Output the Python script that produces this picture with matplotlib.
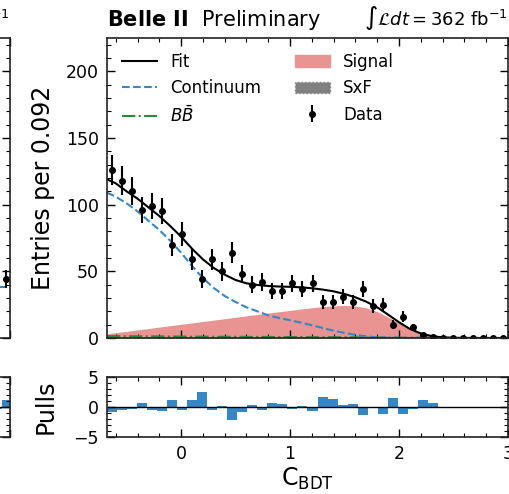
import numpy as np
import matplotlib.pyplot as plt
from matplotlib.ticker import MultipleLocator
from matplotlib.patches import Patch

plt.rcParams['font.family'] = 'DejaVu Sans'
plt.rcParams['mathtext.fontset'] = 'dejavusans'

# binning: 40 bins of 0.092 in C_BDT
bin_lo, bin_hi, n_bins = -0.68, 3.0, 40
edges = np.linspace(bin_lo, bin_hi, n_bins + 1)
centers = 0.5 * (edges[:-1] + edges[1:])

data_counts = [126, 118, 110, 96, 99, 95, 70, 78, 59, 44,
               59, 50, 64, 48, 40, 42, 35, 35, 41, 37,
               41, 27, 27, 31, 27, 37, 24, 25, 10, 16,
               8, 2, 1, 0, 0, 0, 0, 0, 0, 0]

pulls = [-0.83, -0.5, -0.3, 0.6, -0.5, -0.7, 1.25, -0.5, 1.25, 2.45,
         -0.5, 0.1, -2.2, -0.85, 0.3, -0.5, 0.6, 0.45, -0.4, 0.1,
         -0.65, 1.6, 1.4, 0.3, 0.5, -1.4, -0.1, -1.1, 1.45, -1.1,
         -0.4, 1.1, 0.6]

# fit components
curve_x = [-0.68, -0.6, -0.5, -0.4, -0.3, -0.2, -0.1, 0.0, 0.1, 0.2,
           0.3, 0.4, 0.5, 0.6, 0.7, 0.8, 0.9, 1.0, 1.1, 1.2,
           1.3, 1.4, 1.5, 1.6, 1.7, 1.8, 1.9, 2.0, 2.1, 2.2,
           2.3, 2.4, 2.5, 2.6, 2.7, 2.8, 2.9, 3.0]
fit_total = [119, 116, 110, 104.5, 98, 91.5, 84, 76, 67, 59,
             52.5, 47.5, 43.5, 41, 39.8, 39, 38.6, 38.4, 38, 37.3,
             36.3, 35, 33, 30.5, 27.2, 23, 17.5, 11.8, 6.8, 3.4,
             1.4, 0.5, 0.15, 0.05, 0, 0, 0, 0]
continuum = [109, 106, 101, 95, 88, 81, 73, 64, 54, 45,
             37.5, 31.5, 27, 23, 20, 17, 15, 13.3, 11.5, 9.6,
             7.5, 5.5, 3.8, 2.4, 1.2, 0.5, 0.2, 0.05, 0, 0,
             0, 0, 0, 0, 0, 0, 0, 0]
signal = [2.8, 3.6, 4.6, 5.7, 6.7, 7.8, 8.8, 9.9, 10.9, 12.0,
          13.0, 14.1, 15.1, 16.2, 17.2, 18.3, 19.3, 20.3, 21.3, 22.3,
          23.1, 23.7, 24.0, 23.7, 22.3, 19.5, 15.5, 11.0, 6.5, 3.0,
          1.0, 0.3, 0.05, 0, 0, 0, 0, 0]
bbbar = [1.4, 1.4, 1.3, 1.3, 1.2, 1.2, 1.1, 1.1, 1.0, 1.0,
         0.9, 0.9, 0.9, 0.8, 0.8, 0.8, 0.7, 0.7, 0.7, 0.6,
         0.6, 0.6, 0.5, 0.5, 0.4, 0.4, 0.3, 0.3, 0.2, 0.2,
         0.1, 0.1, 0.05, 0, 0, 0, 0, 0]
sxf = [0.4, 0.4, 0.4, 0.4, 0.4, 0.4, 0.4, 0.4, 0.4, 0.4,
       0.4, 0.4, 0.4, 0.4, 0.4, 0.4, 0.4, 0.4, 0.4, 0.4,
       0.4, 0.4, 0.4, 0.3, 0.3, 0.3, 0.2, 0.2, 0.1, 0.1,
       0.05, 0, 0, 0, 0, 0, 0, 0]

# right end of the neighbouring panel (only a sliver is visible)
nb_x = [2.7, 2.8, 2.9, 3.0]
nb_cont = [38, 38, 38, 38]
nb_data_x = [2.954]
nb_data = [44]
nb_pulls = [-0.4, -0.4, 1.2]

blue = '#3587c5'
red_fill = '#e99393'

W, H = 510, 494
fig = plt.figure(figsize=(W / 100, H / 100), dpi=100)
ax = fig.add_axes([107 / W, 1 - 338 / H, 401 / W, 300 / H])
axp = fig.add_axes([107 / W, 1 - 437 / H, 401 / W, 60 / H])
axl = fig.add_axes([-0.6, 1 - 338 / H, 0.62, 300 / H])
axlp = fig.add_axes([-0.6, 1 - 437 / H, 0.62, 60 / H])

# main panel
ax.fill_between(curve_x, 0, sxf, color='gray', lw=0)
ax.fill_between(curve_x, sxf, np.add(sxf, signal), color=red_fill, lw=0)
ax.plot(curve_x, bbbar, color='#2a8a3a', ls='-.', lw=1.5)
ax.plot(curve_x, continuum, color=blue, ls='--', lw=1.5)
ax.plot(curve_x, fit_total, color='black', lw=1.5)
ax.errorbar(centers, data_counts, yerr=np.sqrt(data_counts), fmt='o',
            color='black', ms=4, elinewidth=1.5, capsize=0)

h_fit = plt.Line2D([], [], color='black', lw=1.5)
h_cont = plt.Line2D([], [], color=blue, ls='--', lw=1.5)
h_bb = plt.Line2D([], [], color='#2a8a3a', ls='-.', lw=1.5)
h_sig = Patch(facecolor=red_fill, edgecolor=red_fill)
h_sxf = Patch(facecolor='gray', edgecolor='gray', ls=':')
h_data = ax.errorbar([], [], yerr=[], fmt='o', color='black', ms=4,
                     elinewidth=1.5, capsize=0)
ax.legend([h_fit, h_cont, h_bb, h_sig, h_sxf, h_data],
          ['Fit', 'Continuum', r'$B\bar{B}$', 'Signal', 'SxF', 'Data'],
          ncol=2, frameon=False, loc='upper left', fontsize=12,
          columnspacing=2.0, handlelength=2.1)

ax.set_xlim(bin_lo, bin_hi)
ax.set_ylim(0, 225)
ax.set_ylabel('Entries per 0.092', fontsize=17, labelpad=8)
ax.xaxis.set_major_locator(MultipleLocator(1))
ax.xaxis.set_minor_locator(MultipleLocator(0.2))
ax.yaxis.set_major_locator(MultipleLocator(50))
ax.yaxis.set_minor_locator(MultipleLocator(10))
ax.tick_params(labelbottom=False)

ax.text(0, 1.02, r'$\mathbf{Belle\ II}$  Preliminary', transform=ax.transAxes,
        fontsize=15, ha='left', va='bottom')
ax.text(1, 1.02, r'$\int\mathcal{L}dt = 362$ fb$^{-1}$', transform=ax.transAxes,
        fontsize=13, ha='right', va='bottom')

# pulls panel
axp.bar(centers[:len(pulls)], pulls, width=edges[1] - edges[0], color=blue, lw=0)
axp.axhline(0, color='black', lw=1)
axp.set_xlim(bin_lo, bin_hi)
axp.set_ylim(-5, 5)
axp.set_ylabel('Pulls', fontsize=17, labelpad=11)
axp.set_xlabel(r'C$_{\mathrm{BDT}}$', fontsize=17, labelpad=2)
axp.xaxis.set_major_locator(MultipleLocator(1))
axp.xaxis.set_minor_locator(MultipleLocator(0.2))
axp.yaxis.set_major_locator(MultipleLocator(5))
axp.yaxis.set_minor_locator(MultipleLocator(1))

# neighbouring panel sliver
axl.plot(nb_x, nb_cont, color=blue, ls='--', lw=1.5)
axl.errorbar(nb_data_x, nb_data, yerr=np.sqrt(nb_data), fmt='o', color='black',
             ms=4, elinewidth=1.5, capsize=0)
axl.set_xlim(bin_lo, bin_hi)
axl.set_ylim(0, 225)
axl.yaxis.set_minor_locator(MultipleLocator(10))
axl.text(1, 1.02, r'$\int\mathcal{L}dt = 362$ fb$^{-1}$', transform=axl.transAxes,
         fontsize=13, ha='right', va='bottom')
axlp.bar(centers[-len(nb_pulls):], nb_pulls, width=edges[1] - edges[0], color=blue, lw=0)
axlp.axhline(0, color='black', lw=1)
axlp.set_xlim(bin_lo, bin_hi)
axlp.set_ylim(-5, 5)
axlp.yaxis.set_minor_locator(MultipleLocator(1))
for a in (axl, axlp):
    a.tick_params(labelleft=False, labelbottom=False)

for a in (ax, axp, axl, axlp):
    a.tick_params(which='both', direction='in', top=True, right=True,
                  labelsize=12.5, pad=6)
    a.tick_params(which='major', length=6, width=1)
    a.tick_params(which='minor', length=3, width=0.8)
    for s in a.spines.values():
        s.set_linewidth(1.2)
        s.set_color('#222222')

fig.savefig('out.png', dpi=100)
